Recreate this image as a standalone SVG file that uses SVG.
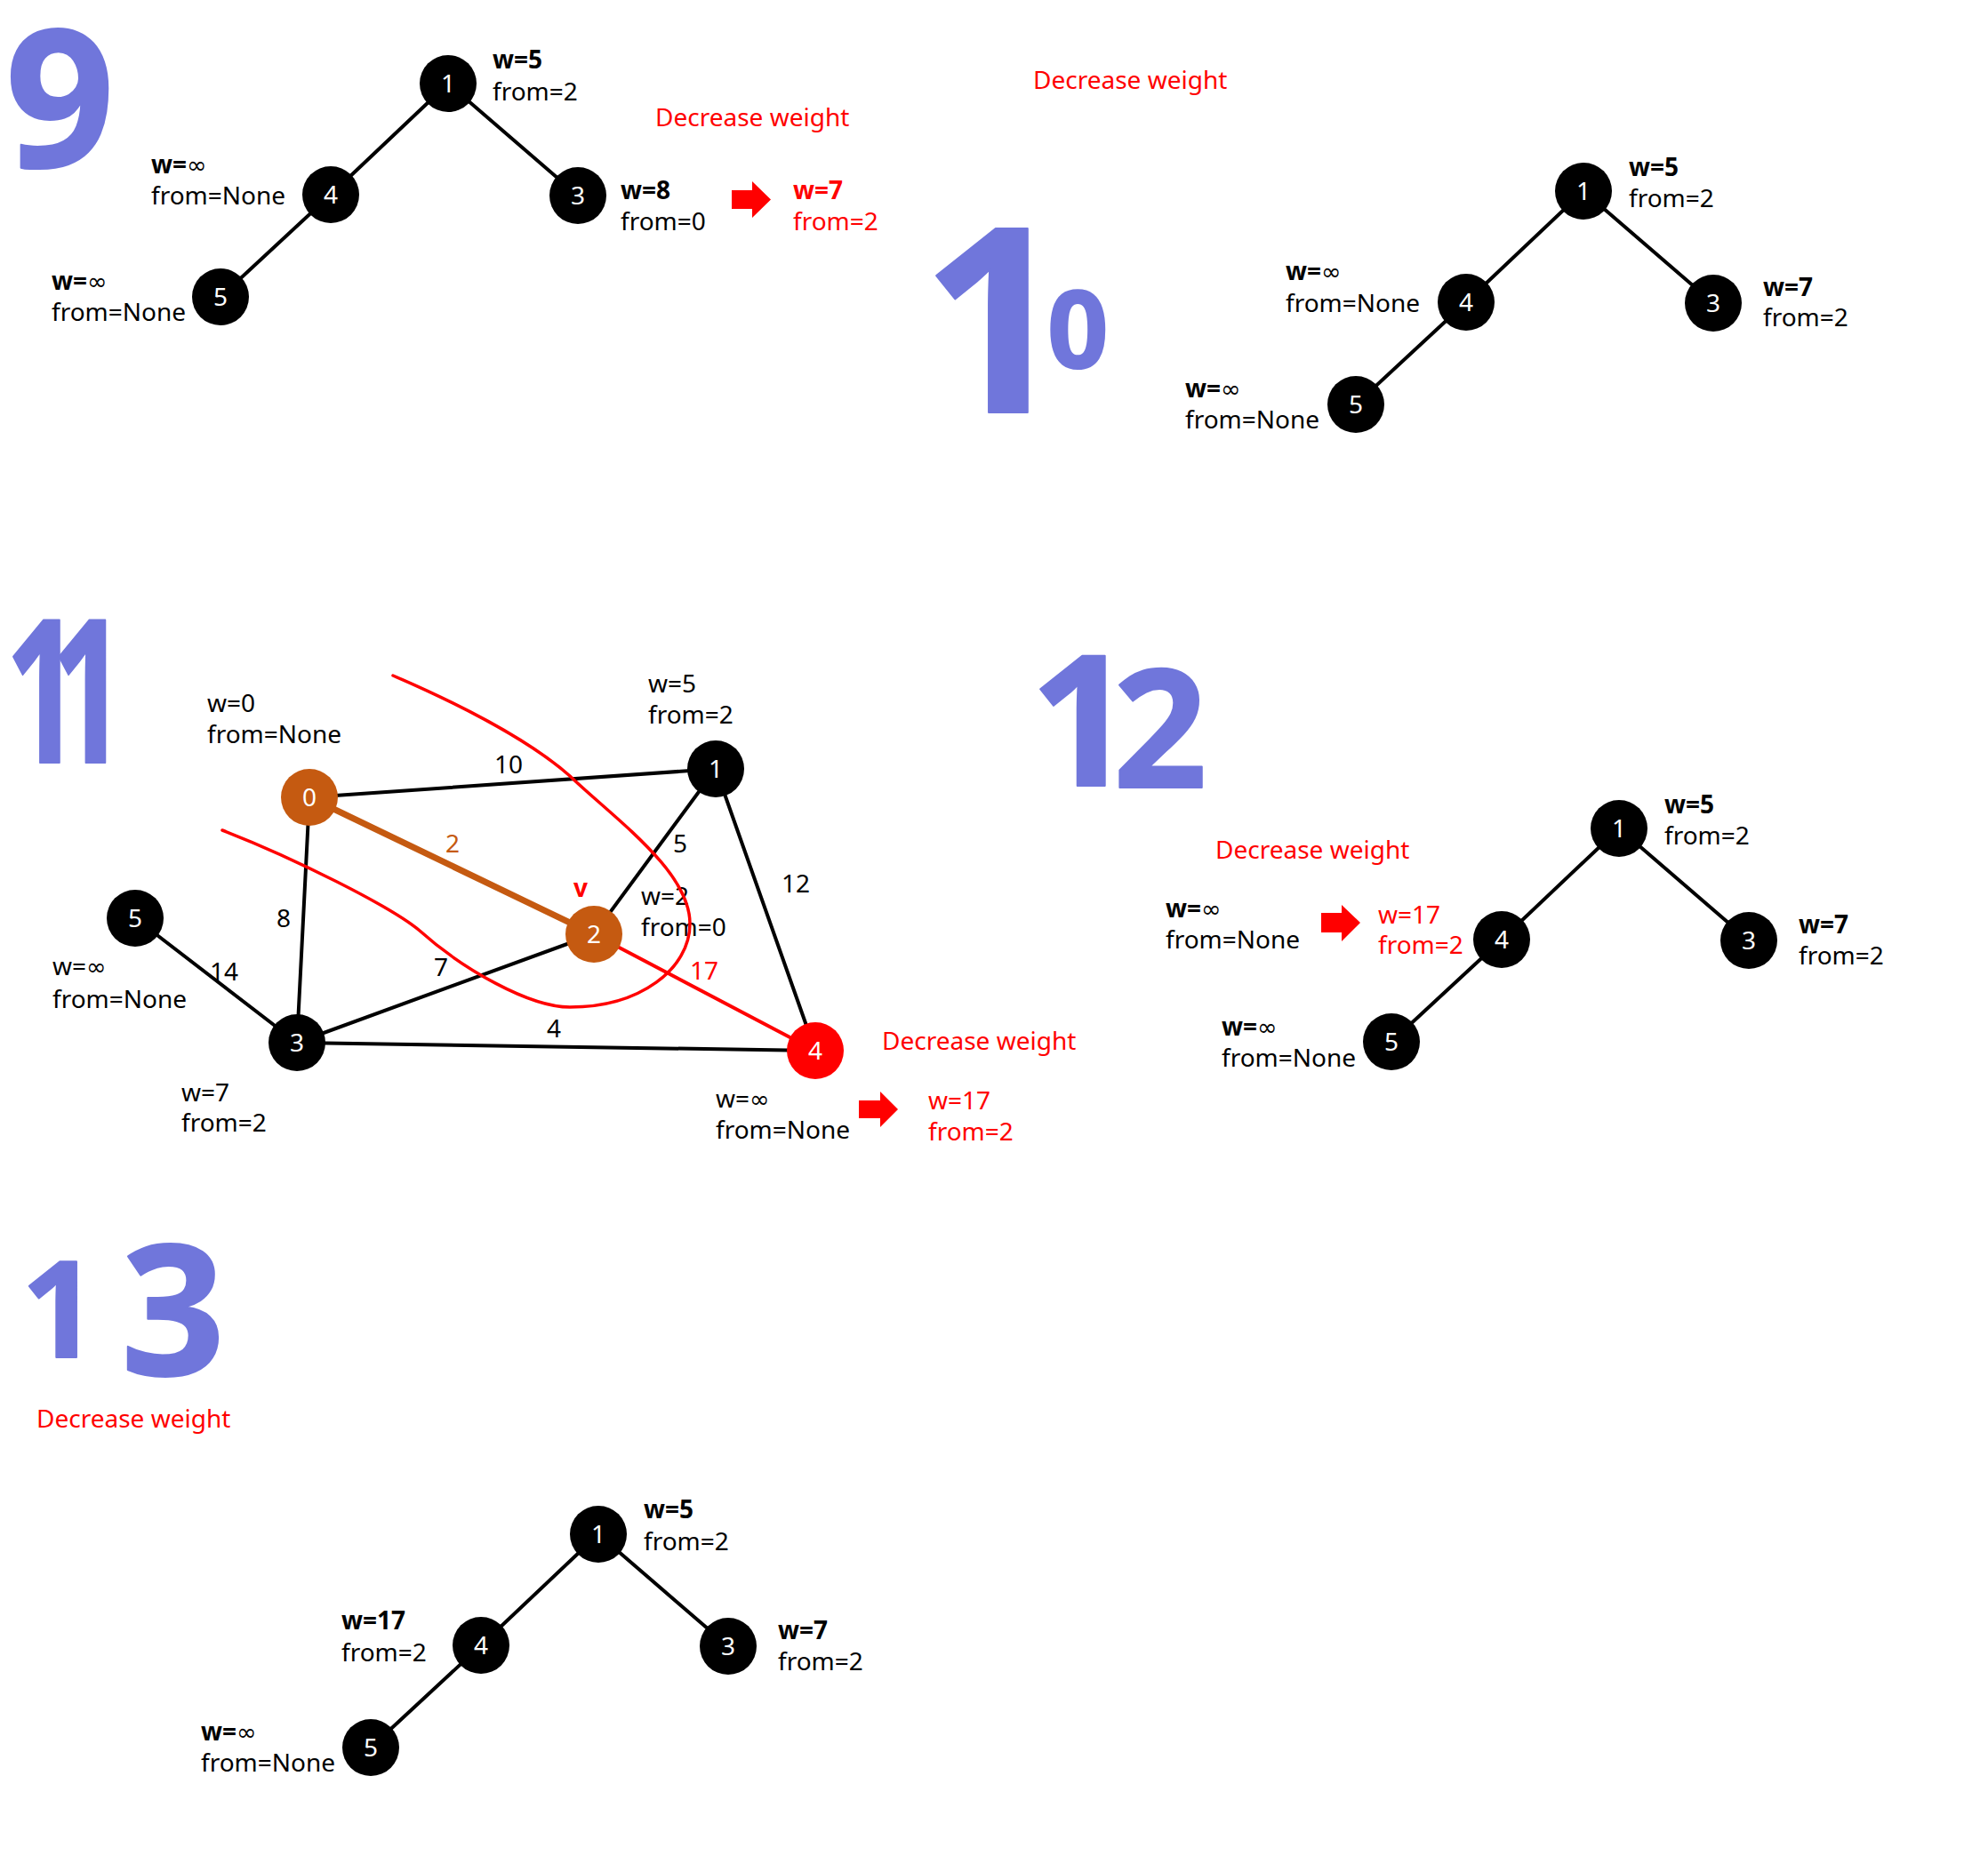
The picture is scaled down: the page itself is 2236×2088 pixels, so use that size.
<svg xmlns="http://www.w3.org/2000/svg" width="2236" height="2088" viewBox="0 0 2236 2088">
<style>
.t{font-family:"Noto Sans","Open Sans","Noto Sans CJK KR",sans-serif;font-size:28px;fill:#000}
.b{font-weight:bold}
.r{fill:#ff0000}
.o{fill:#c55a11}
.inf{font-family:"DejaVu Sans",sans-serif;font-weight:normal;font-size:27px}
.nd{fill:#000}
.ndo{fill:#c55a11}
.ndr{fill:#ff0000}
.nl{font-family:"Noto Sans","Open Sans",sans-serif;font-size:28px;fill:#fff;text-anchor:middle}
.e{stroke:#000;stroke-width:4;stroke-linecap:round;fill:none}
.eo{stroke:#c55a11;stroke-width:7;stroke-linecap:round;fill:none}
.er{stroke:#ff0000;stroke-width:4;stroke-linecap:round;fill:none}
.cut{stroke:#ff0000;stroke-width:3.5;fill:none;stroke-linecap:round}
.arr{fill:#ff0000}
.hand{font-family:"Open Sans",sans-serif;font-weight:bold;fill:#5159d4;stroke:#5159d4;stroke-width:2;stroke-linejoin:round;opacity:0.82}
</style>
<rect width="2236" height="2088" fill="#fff"/>

<!-- step numbers -->
<g id="step-9"><text class="hand" x="6" y="188" font-size="215">9</text></g>
<g id="step-10"><text class="hand"><tspan x="1036" y="464" font-size="290">1</tspan><tspan x="1178" y="414" font-size="120">0</tspan></text></g>
<g id="step-11"><text class="hand" transform="translate(6,858) scale(0.66,1)" font-size="224" letter-spacing="-50">11</text></g>
<g id="step-12"><text class="hand"><tspan x="1158" y="884" font-size="205">1</tspan><tspan x="1252" y="886" font-size="185">2</tspan></text></g>
<g id="step-13"><text class="hand"><tspan x="24" y="1527" font-size="150">1</tspan><tspan x="136" y="1547" font-size="205">3</tspan></text></g>

<g id="connectors">
  <line class="e" x1="504" y1="94" x2="372" y2="219"/>
  <line class="e" x1="504" y1="94" x2="650" y2="220"/>
  <line class="e" x1="372" y1="219" x2="248" y2="334"/>

  <line class="e" x1="1781" y1="215" x2="1649" y2="340"/>
  <line class="e" x1="1781" y1="215" x2="1927" y2="341"/>
  <line class="e" x1="1649" y1="340" x2="1525" y2="455"/>

  <line class="e" x1="348" y1="897" x2="805" y2="865"/>
  <line class="eo" x1="348" y1="897" x2="668" y2="1051"/>
  <line class="e" x1="348" y1="897" x2="334" y2="1173"/>
  <line class="e" x1="805" y1="865" x2="668" y2="1051"/>
  <line class="e" x1="805" y1="865" x2="917" y2="1182"/>
  <line class="e" x1="152" y1="1033" x2="334" y2="1173"/>
  <line class="e" x1="334" y1="1173" x2="668" y2="1051"/>
  <line class="e" x1="334" y1="1173" x2="917" y2="1182"/>
  <line class="er" x1="668" y1="1051" x2="917" y2="1182"/>

  <line class="e" x1="1821" y1="932" x2="1689" y2="1057"/>
  <line class="e" x1="1821" y1="932" x2="1967" y2="1058"/>
  <line class="e" x1="1689" y1="1057" x2="1565" y2="1172"/>

  <line class="e" x1="673" y1="1726" x2="541" y2="1851"/>
  <line class="e" x1="673" y1="1726" x2="819" y2="1852"/>
  <line class="e" x1="541" y1="1851" x2="417" y2="1966"/>
</g>

<!-- ===== Section 9 ===== -->
<g id="s9-n1"><circle class="nd" cx="504" cy="94" r="32"/><text class="nl" x="504" y="104">1</text></g>
<g id="s9-n4"><circle class="nd" cx="372" cy="219" r="32"/><text class="nl" x="372" y="229">4</text></g>
<g id="s9-n3"><circle class="nd" cx="650" cy="220" r="32"/><text class="nl" x="650" y="230">3</text></g>
<g id="s9-n5"><circle class="nd" cx="248" cy="334" r="32"/><text class="nl" x="248" y="344">5</text></g>
<g id="s9-labels">
  <text class="t b" x="554" y="77">w=5</text><text class="t" x="554" y="113">from=2</text>
  <text class="t b" x="170" y="195">w=<tspan class="inf">∞</tspan></text><text class="t" x="170" y="230">from=None</text>
  <text class="t b" x="58" y="326">w=<tspan class="inf">∞</tspan></text><text class="t" x="58" y="361">from=None</text>
  <text class="t b" x="698" y="224">w=8</text><text class="t" x="698" y="259">from=0</text>
  <polygon class="arr" points="823,214 846,214 846,204 867,224.5 846,245 846,235 823,235"/>
  <text class="t b r" x="892" y="224">w=7</text><text class="t r" x="892" y="259">from=2</text>
  <text class="t r" x="737" y="142">Decrease weight</text>
</g>

<!-- ===== Section 10 ===== -->
<g id="s10-n1"><circle class="nd" cx="1781" cy="215" r="32"/><text class="nl" x="1781" y="225">1</text></g>
<g id="s10-n4"><circle class="nd" cx="1649" cy="340" r="32"/><text class="nl" x="1649" y="350">4</text></g>
<g id="s10-n3"><circle class="nd" cx="1927" cy="341" r="32"/><text class="nl" x="1927" y="351">3</text></g>
<g id="s10-n5"><circle class="nd" cx="1525" cy="455" r="32"/><text class="nl" x="1525" y="465">5</text></g>
<g id="s10-labels">
  <text class="t r" x="1162" y="100">Decrease weight</text>
  <text class="t b" x="1832" y="198">w=5</text><text class="t" x="1832" y="233">from=2</text>
  <text class="t b" x="1983" y="333">w=7</text><text class="t" x="1983" y="367">from=2</text>
  <text class="t b" x="1446" y="315">w=<tspan class="inf">∞</tspan></text><text class="t" x="1446" y="351">from=None</text>
  <text class="t b" x="1333" y="447">w=<tspan class="inf">∞</tspan></text><text class="t" x="1333" y="482">from=None</text>
</g>

<!-- ===== Section 11 ===== -->
<g id="s11-n0"><circle class="ndo" cx="348" cy="897" r="32"/><text class="nl" x="348" y="907">0</text></g>
<g id="s11-n1"><circle class="nd" cx="805" cy="865" r="32"/><text class="nl" x="805" y="875">1</text></g>
<g id="s11-n2"><circle class="ndo" cx="668" cy="1051" r="32"/><text class="nl" x="668" y="1061">2</text></g>
<g id="s11-n3"><circle class="nd" cx="334" cy="1173" r="32"/><text class="nl" x="334" y="1183">3</text></g>
<g id="s11-n4"><circle class="ndr" cx="917" cy="1182" r="32"/><text class="nl" x="917" y="1192">4</text></g>
<g id="s11-n5"><circle class="nd" cx="152" cy="1033" r="32"/><text class="nl" x="152" y="1043">5</text></g>
<g id="s11-labels">
  <text class="t" x="556" y="870">10</text>
  <text class="t o" x="501" y="959">2</text>
  <text class="t" x="311" y="1043">8</text>
  <text class="t" x="236" y="1103">14</text>
  <text class="t" x="488" y="1098">7</text>
  <text class="t" x="615" y="1167">4</text>
  <text class="t" x="757" y="959">5</text>
  <text class="t" x="879" y="1004">12</text>
  <text class="t r" x="776" y="1102">17</text>
  <text class="t b r" x="645" y="1009">v</text>
  <text class="t" x="233" y="801">w=0</text><text class="t" x="233" y="836">from=None</text>
  <text class="t" x="729" y="779">w=5</text><text class="t" x="729" y="814">from=2</text>
  <text class="t" x="721" y="1018">w=2</text><text class="t" x="721" y="1053">from=0</text>
  <text class="t" x="59" y="1097">w=<tspan class="inf">∞</tspan></text><text class="t" x="59" y="1134">from=None</text>
  <text class="t" x="204" y="1239">w=7</text><text class="t" x="204" y="1273">from=2</text>
  <text class="t r" x="992" y="1181">Decrease weight</text>
  <text class="t" x="805" y="1246">w=<tspan class="inf">∞</tspan></text><text class="t" x="805" y="1281">from=None</text>
  <polygon class="arr" points="966,1238 990,1238 990,1228 1010,1248 990,1268 990,1258 966,1258"/>
  <text class="t r" x="1044" y="1248">w=17</text><text class="t r" x="1044" y="1283">from=2</text>
</g>
<g id="s11-cut">
  <path class="cut" d="M442,760 C500,785 590,828 641,873 C690,920 776,980 776,1039 C776,1090 720,1133 641,1133 C595,1133 520,1090 472,1047 C440,1020 330,965 250,934"/>
</g>

<!-- ===== Section 12 ===== -->
<g id="s12-n1"><circle class="nd" cx="1821" cy="932" r="32"/><text class="nl" x="1821" y="942">1</text></g>
<g id="s12-n4"><circle class="nd" cx="1689" cy="1057" r="32"/><text class="nl" x="1689" y="1067">4</text></g>
<g id="s12-n3"><circle class="nd" cx="1967" cy="1058" r="32"/><text class="nl" x="1967" y="1068">3</text></g>
<g id="s12-n5"><circle class="nd" cx="1565" cy="1172" r="32"/><text class="nl" x="1565" y="1182">5</text></g>
<g id="s12-labels">
  <text class="t r" x="1367" y="966">Decrease weight</text>
  <text class="t b" x="1872" y="915">w=5</text><text class="t" x="1872" y="950">from=2</text>
  <text class="t b" x="2023" y="1050">w=7</text><text class="t" x="2023" y="1085">from=2</text>
  <text class="t b" x="1311" y="1032">w=<tspan class="inf">∞</tspan></text><text class="t" x="1311" y="1067">from=None</text>
  <polygon class="arr" points="1486,1027 1509,1027 1509,1018 1530,1038 1509,1059 1509,1049 1486,1049"/>
  <text class="t r" x="1550" y="1039">w=17</text><text class="t r" x="1550" y="1073">from=2</text>
  <text class="t b" x="1374" y="1165">w=<tspan class="inf">∞</tspan></text><text class="t" x="1374" y="1200">from=None</text>
</g>

<!-- ===== Section 13 ===== -->
<g id="s13-n1"><circle class="nd" cx="673" cy="1726" r="32"/><text class="nl" x="673" y="1736">1</text></g>
<g id="s13-n4"><circle class="nd" cx="541" cy="1851" r="32"/><text class="nl" x="541" y="1861">4</text></g>
<g id="s13-n3"><circle class="nd" cx="819" cy="1852" r="32"/><text class="nl" x="819" y="1862">3</text></g>
<g id="s13-n5"><circle class="nd" cx="417" cy="1966" r="32"/><text class="nl" x="417" y="1976">5</text></g>
<g id="s13-labels">
  <text class="t r" x="41" y="1606">Decrease weight</text>
  <text class="t b" x="724" y="1708">w=5</text><text class="t" x="724" y="1744">from=2</text>
  <text class="t b" x="384" y="1833">w=17</text><text class="t" x="384" y="1869">from=2</text>
  <text class="t b" x="875" y="1844">w=7</text><text class="t" x="875" y="1879">from=2</text>
  <text class="t b" x="226" y="1958">w=<tspan class="inf">∞</tspan></text><text class="t" x="226" y="1993">from=None</text>
</g>
</svg>
